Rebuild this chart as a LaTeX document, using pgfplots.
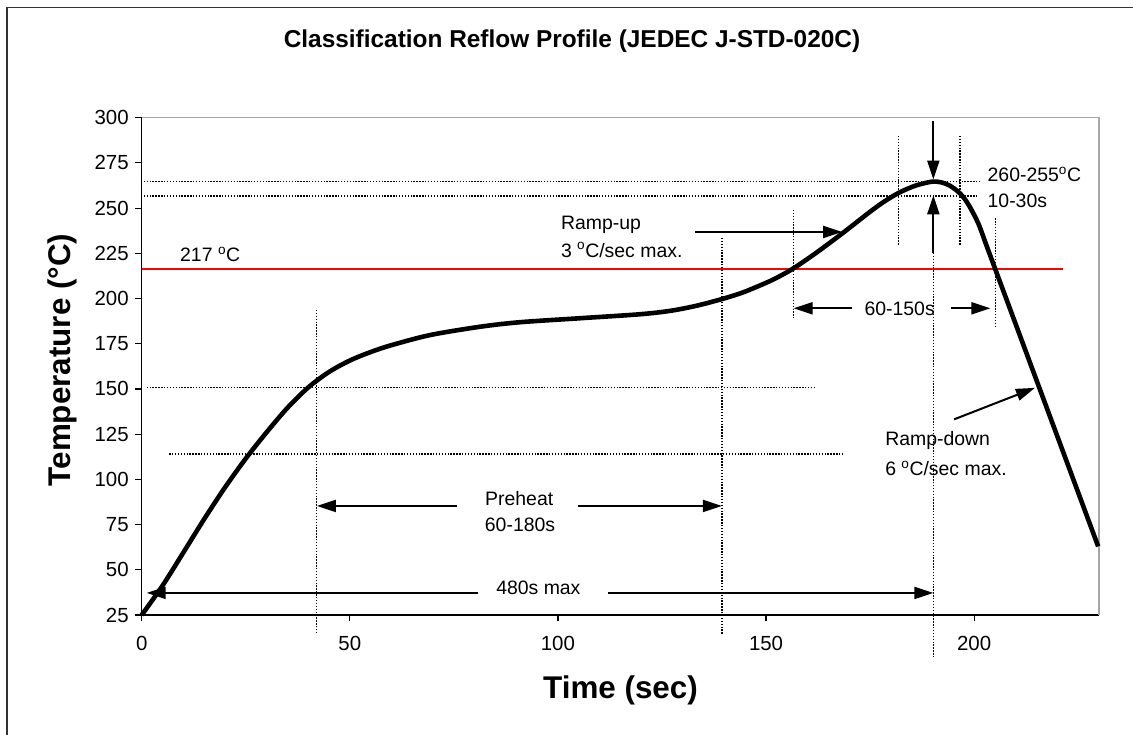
\documentclass[border=0pt]{standalone}
\usepackage{fontspec}
\setmainfont{Liberation Sans}
\usepackage{pgfplots}
\pgfplotsset{compat=1.18}
\usetikzlibrary{arrows.meta}
\newcommand{\dg}{\textsuperscript{o}}
\tikzset{
  dotline/.style={black, line width=1.4bp, dash pattern=on 1.4bp off 1.5bp},
  arr/.style={black, line width=2bp, -{Triangle[length=19bp,width=12bp]}},
  ann/.style={font=\fontsize{19.5}{23}\selectfont, inner sep=0pt},
}
\begin{document}
\begin{tikzpicture}[x=1bp,y=1bp]
\useasboundingbox (0,0) rectangle (1133,735);
\draw[line width=1.6bp, black!80] (7,0) -- (7,727.5) -- (1133,727.5);
\begin{axis}[
  at={(141.7bp,120bp)}, anchor=south west,
  scale only axis, width=957.3bp, height=497.3bp,
  xmin=0, xmax=230, ymin=25, ymax=300,
  axis lines*=left, axis line style={-, line width=1.5bp, black},
  xtick={0,50,...,200}, ytick={25,50,...,300},
  tick align=outside, major tick length=6.5bp,
  tick style={line width=1.2bp, black},
  clip=false,
  ticklabel style={font=\fontsize{20.5}{24}\selectfont},
  xticklabel style={yshift=-11bp},
  yticklabel style={xshift=-3bp},
  /pgf/number format/assume math mode=true,
  title={Classification Reflow Profile (JEDEC J-STD-020C)},
  title style={font=\bfseries\fontsize{24.5}{29}\selectfont, at={(axis description cs:0.4495,1.1422)}, anchor=center},
  xlabel={Time (sec)},
  xlabel style={font=\bfseries\fontsize{31.5}{36}\selectfont, at={(axis description cs:0.5002,-0.1508)}, anchor=center},
  ylabel={Temperature (°C)},
  ylabel style={font=\bfseries\fontsize{31.5}{36}\selectfont, at={(axis description cs:-0.0833,0.5128)}, anchor=center},
]
\draw[gray!70, line width=1.5bp] (rel axis cs:0,1) -- (rel axis cs:1,1) -- (rel axis cs:1,0);
% dotted guide lines
\addplot[dotline] coordinates {(0.5,264.6) (201.2,264.6)};
\addplot[dotline] coordinates {(0.5,256.8) (200.7,256.8)};
\addplot[dotline] coordinates {(1.2,150.7) (162,150.7)};
\addplot[dotline] coordinates {(6.6,114) (168.5,114)};
\addplot[dotline] coordinates {(42,193.7) (42,14.5)};
\addplot[dotline] coordinates {(139.4,233.5) (139.4,14.5)};
\addplot[dotline] coordinates {(156.6,249) (156.6,189)};
\addplot[dotline] coordinates {(181.8,289.9) (181.8,229)};
\addplot[dotline] coordinates {(196.6,289.9) (196.6,229)};
\addplot[dotline] coordinates {(190.2,225.2) (190.2,0.7)};
\addplot[dotline] coordinates {(205.2,244.4) (205.2,183.5)};
% 217 C line
\addplot[red, line width=2bp] coordinates {(0,216.6) (221.4,216.6)};
% profile
\addplot[black, line width=4.6bp, smooth] coordinates {
(0,25) (5,41.2) (10,59.5) (15,78) (20,95.5) (25,111.5) (30,126) (35,139.5)
(40,150.8) (45,159.4) (50,165.7) (55,170.4) (60,174.2) (69.3,179.8)
(81.3,184.4) (90.9,186.9) (105.3,189.1) (119.7,191.3) (127,193.2)
(133.3,196.0) (139.4,199.7) (144,203.0) (148,206.7) (152,210.8)
(156.6,216.7) (162,225.2) (167.8,235.1) (172,242.6) (175,248) (178.5,253.8)
(182.2,258.8) (186,262.5) (189.8,264.6) (192,264.3) (194,262.6) (196,259.4)
(197.5,255.8) (199,250.5) (201,241.5) (203,229.1) (205,216.7) (210,185.7)
(215,154.7) (220,123.7) (225,92.7) (229.8,62.9)};
% arrows
\addplot[arr] coordinates {(80.8,37.2) (1.2,37.2)};
\addplot[arr] coordinates {(112,37.2) (190.2,37.2)};
\addplot[arr] coordinates {(75.8,85.3) (42.1,85.3)};
\addplot[arr] coordinates {(104.9,85.3) (139.4,85.3)};
\addplot[arr] coordinates {(132.9,236.8) (168.3,236.8)};
\addplot[arr] coordinates {(170.6,194.6) (156.6,194.6)};
\addplot[arr] coordinates {(194.5,194.6) (203.9,194.6)};
\addplot[arr] coordinates {(190.2,298.3) (190.2,265.8)};
\addplot[arr] coordinates {(190.2,225.2) (190.2,257.1)};
\addplot[arr] coordinates {(195.2,133.2) (214.6,150.6)};
% texts
\node[ann, anchor=base west] at (axis cs:9.2,220.2) {217 \dg C};
\node[ann, anchor=base west] at (axis cs:100.7,238.3) {Ramp-up};
\node[ann, anchor=base west] at (axis cs:100.7,222.8) {3 \dg C/sec max.};
\node[ann, anchor=base west] at (axis cs:203.2,264.6) {260-255\dg C};
\node[ann, anchor=base west] at (axis cs:203.2,250.2) {10-30s};
\node[ann, anchor=base] at (axis cs:182.1,190.5) {60-150s};
\node[ann, anchor=base] at (axis cs:90.7,85.8) {Preheat};
\node[ann, anchor=base] at (axis cs:90.9,71.1) {60-180s};
\node[ann, anchor=base] at (axis cs:95.3,36.1) {480s max};
\node[ann, anchor=base west] at (axis cs:178.6,118.6) {Ramp-down};
\node[ann, anchor=base west] at (axis cs:178.6,102) {6 \dg C/sec max.};
\end{axis}
\end{tikzpicture}
\end{document}
